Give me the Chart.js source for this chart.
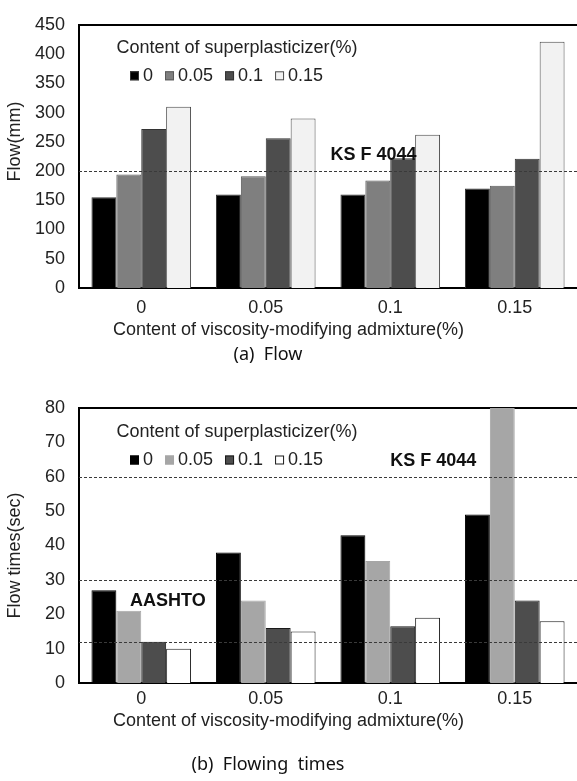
<!DOCTYPE html>
<html>
<head>
<meta charset="utf-8">
<script src="https://cdn.jsdelivr.net/npm/chart.js@4.4.1/dist/chart.umd.min.js"></script>
<style>
  html, body { margin: 0; padding: 0; background: #fff; }
  body { width: 577px; height: 781px; position: relative; overflow: hidden; }
  .box { position: absolute; left: 0; width: 577px; }
  .caption {
    position: absolute; left: 0; width: 577px; box-sizing: border-box; padding-right: 41px;
    text-align: center; white-space: pre; line-height: 24px;
    font-family: "Noto Sans", "Open Sans", sans-serif; font-size: 18px; color: #111;
  }
</style>
</head>
<body>
<div class="box" style="top:0;height:345px"><canvas id="chartFlow" width="577" height="345"></canvas></div>
<div class="caption" style="top:341px">(a)  Flow</div>
<div class="box" style="top:380px;height:355px"><canvas id="chartTimes" width="577" height="355"></canvas></div>
<div class="caption" style="top:751px">(b)  Flowing  times</div>

<script>
// categories = content of viscosity-modifying admixture (%)
const categories = ['0', '0.05', '0.1', '0.15'];
// series = content of superplasticizer (%)
const seriesLabels = ['0', '0.05', '0.1', '0.15'];

// (a) Flow (mm)
const flowSp0   = [155, 160, 160, 170];
const flowSp005 = [194, 191, 184, 175];
const flowSp01  = [272, 256, 222, 221];
const flowSp015 = [310, 290, 262, 421];
const flowRefLines = [200];

// (b) Flowing times (sec)
const timeSp0   = [27, 38, 43, 49];
const timeSp005 = [21, 24, 35.5, 80];
const timeSp01  = [12, 16, 16.5, 24];
const timeSp015 = [10, 15, 19, 18];
const timeRefLines = [60, 30, 12];

const FONT = '"Liberation Sans", Arial, Helvetica, sans-serif';
const TXT = '#222';
Chart.defaults.font.family = FONT;
Chart.defaults.font.size = 18;
Chart.defaults.color = TXT;

// dashed reference lines + their labels (KS F 4044, AASHTO)
const refLinePlugin = {
    id: 'refLines',
    afterDatasetsDraw(chart, args, opts) {
        const { ctx, chartArea, scales: { x, y } } = chart;
        ctx.save();
        ctx.strokeStyle = '#3a3a3a';
        ctx.lineWidth = 1.2;
        ctx.setLineDash([3, 2]);
        (opts.values || []).forEach(v => {
            const py = Math.round(y.getPixelForValue(v)) + 0.5;
            ctx.beginPath();
            ctx.moveTo(chartArea.left, py);
            ctx.lineTo(chartArea.right, py);
            ctx.stroke();
        });
        ctx.setLineDash([]);
        ctx.font = 'bold 18px ' + FONT;
        ctx.fillStyle = '#111';
        ctx.textAlign = 'left';
        ctx.textBaseline = 'middle';
        (opts.labels || []).forEach(l => {
            ctx.fillText(l.text, x.getPixelForValue(l.x), y.getPixelForValue(l.y));
        });
        ctx.restore();
    }
};

// legend inside the plot: title line + one row of items
const legendPlugin = {
    id: 'innerLegend',
    afterDraw(chart, args, opts) {
        const { ctx, chartArea } = chart;
        ctx.save();
        ctx.font = '18px ' + FONT;
        ctx.fillStyle = TXT;
        ctx.textBaseline = 'middle';
        ctx.textAlign = 'center';
        ctx.fillText(opts.title, opts.titleX, chartArea.top + opts.titleDy);
        ctx.textAlign = 'left';
        let cx = opts.itemsX;
        const iy = chartArea.top + opts.itemsDy;
        chart.data.datasets.forEach(ds => {
            ctx.fillStyle = ds.backgroundColor;
            ctx.fillRect(cx, iy - 4.5, 9, 9);
            ctx.strokeStyle = ds.borderColor;
            ctx.lineWidth = 1;
            ctx.strokeRect(cx + 0.5, iy - 4, 8, 8);
            ctx.fillStyle = TXT;
            ctx.fillText(ds.label, cx + 13, iy);
            cx += 13 + ctx.measureText(ds.label).width + opts.gap;
        });
        ctx.restore();
    }
};

function makeChart(id, cfg) {
    const canvas = document.getElementById(id);
    return new Chart(canvas, {
        type: 'bar',
        data: {
            labels: categories,
            datasets: cfg.series.map((data, i) => ({
                label: seriesLabels[i],
                data: data,
                backgroundColor: cfg.colors[i],
                borderColor: cfg.borders[i],
                borderWidth: 1,
                barPercentage: 1,
                categoryPercentage: 0.8
            }))
        },
        options: {
            responsive: false,
            animation: false,
            events: [],
            layout: { padding: { top: cfg.padTop, left: 0, right: 0, bottom: 0 } },
            scales: {
                x: {
                    grid: { display: false, drawTicks: false },
                    border: { display: true, color: '#000', width: 2 },
                    ticks: { padding: cfg.xTickPad, color: TXT },
                    afterFit: s => { s.height = cfg.xAxisH; }
                },
                y: {
                    min: 0,
                    max: cfg.yMax,
                    ticks: { stepSize: cfg.yStep, padding: 14, color: TXT },
                    grid: {
                        drawTicks: false,
                        color: c => (c.tick && c.tick.value === cfg.yMax) ? '#000' : 'rgba(0,0,0,0)',
                        lineWidth: c => (c.tick && c.tick.value === cfg.yMax) ? 2 : 0
                    },
                    border: { display: true, color: '#000', width: 2 },
                    title: { display: true, text: cfg.yTitle, color: TXT, padding: { top: 4, bottom: 0 } },
                    afterFit: s => { s.width = 79; }
                }
            },
            plugins: {
                legend: { display: false },
                tooltip: { enabled: false },
                title: {
                    display: true,
                    position: 'bottom',
                    text: 'Content of viscosity-modifying admixture(%)',
                    color: TXT,
                    font: { size: 18, weight: 'normal' },
                    padding: cfg.titlePad
                },
                refLines: { values: cfg.refLines, labels: cfg.refLabels },
                innerLegend: {
                    title: 'Content of superplasticizer(%)',
                    titleX: 237, titleDy: cfg.legTitleDy,
                    itemsX: 130, itemsDy: cfg.legItemsDy, gap: 12
                }
            }
        },
        plugins: [refLinePlugin, legendPlugin]
    });
}

makeChart('chartFlow', {
    series: [flowSp0, flowSp005, flowSp01, flowSp015],
    colors: ['#000000', '#7f7f7f', '#4d4d4d', '#f2f2f2'],
    borders: ['#333333', '#5a5a5a', '#333333', '#4a4a4a'],
    yMax: 450, yStep: 50,
    yTitle: '      Flow(mm)',
    padTop: 14,
    xAxisH: 30, xTickPad: 9,
    titlePad: { top: 1, bottom: 4.4 },
    refLines: flowRefLines,
    refLabels: [{ text: 'KS F 4044', x: 1.52, y: 228 }],
    legTitleDy: 23, legItemsDy: 51
});

makeChart('chartTimes', {
    series: [timeSp0, timeSp005, timeSp01, timeSp015],
    colors: ['#000000', '#a6a6a6', '#4d4d4d', '#ffffff'],
    borders: ['#000000', '#a6a6a6', '#1a1a1a', '#1a1a1a'],
    yMax: 80, yStep: 10,
    yTitle: 'Flow times(sec)    ',
    padTop: 28,
    xAxisH: 25, xTickPad: 5,
    titlePad: { top: 2.2, bottom: 3.2 },
    refLines: timeRefLines,
    refLabels: [
        { text: 'KS F 4044', x: 2.0, y: 64.7 },
        { text: 'AASHTO', x: -0.09, y: 23.9 }
    ],
    legTitleDy: 24, legItemsDy: 52
});
</script>
</body>
</html>
